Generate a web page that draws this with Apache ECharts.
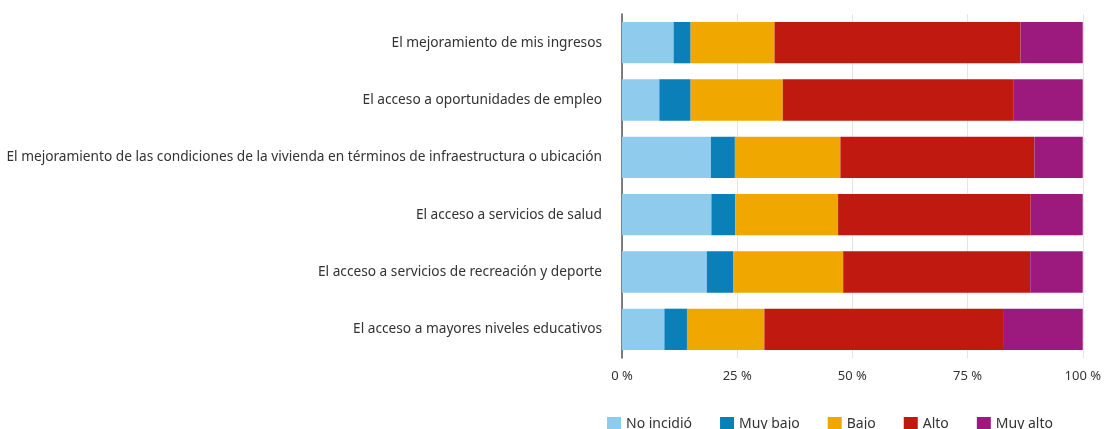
<!DOCTYPE html>
<html>
<head>
<meta charset="utf-8">
<script src="https://cdn.jsdelivr.net/npm/echarts@6/dist/echarts.min.js"></script>
<style>
  html, body { margin: 0; padding: 0; background: #fff; }
  #chart { width: 1104px; height: 429px; }
</style>
</head>
<body>
<div id="chart"></div>
<script>
  var categories = [
    'El mejoramiento de mis ingresos',
    'El acceso a oportunidades de empleo',
    'El mejoramiento de las condiciones de la vivienda en términos de infraestructura o ubicación',
    'El acceso a servicios de salud',
    'El acceso a servicios de recreación y deporte',
    'El acceso a mayores niveles educativos'
  ]
  var seriesNames = ['No incidió', 'Muy bajo', 'Bajo', 'Alto', 'Muy alto']
  var noIncidio = [11.2, 8.1, 19.3, 19.4, 18.4, 9.2]
  var muyBajo = [3.7, 6.8, 5.2, 5.2, 5.7, 4.9]
  var bajo = [18.2, 20.0, 22.9, 22.3, 23.9, 16.8]
  var alto = [53.4, 50.0, 42.1, 41.8, 40.6, 51.8]
  var muyAlto = [13.5, 15.1, 10.5, 11.3, 11.4, 17.3]
  var colors = ['#8ecbec', '#0a7fb8', '#f0a800', '#c0190f', '#9c1a7e']

  var chart = echarts.init(document.getElementById('chart'))
  var values = [noIncidio, muyBajo, bajo, alto, muyAlto]

  chart.setOption({
    animation: false,
    textStyle: { fontFamily: 'Noto Sans', color: '#333' },
    color: colors,
    grid: { left: 622, right: 20, top: 14, bottom: 71 },
    legend: {
      left: 602,
      top: 412,
      itemWidth: 14,
      itemHeight: 14,
      itemGap: 28,
      icon: 'rect',
      textStyle: { fontSize: 14, color: '#333' },
      data: seriesNames
    },
    xAxis: {
      type: 'value',
      min: 0,
      max: 100,
      interval: 25,
      axisLine: { show: false },
      axisTick: { show: false },
      splitLine: { lineStyle: { color: '#e4e4e4' } },
      axisLabel: {
        formatter: '{value} %',
        fontSize: 13,
        color: '#333',
        margin: 12
      }
    },
    yAxis: {
      type: 'category',
      inverse: true,
      data: categories,
      axisLine: { lineStyle: { color: '#555', width: 1.5 } },
      axisTick: { show: false },
      axisLabel: { fontSize: 13.7, color: '#333', margin: 20 }
    },
    series: seriesNames.map(function (name, i) {
      return {
        name: name,
        type: 'bar',
        stack: 'total',
        barCategoryGap: '28%',
        data: values[i]
      }
    })
  })
</script>
</body>
</html>
